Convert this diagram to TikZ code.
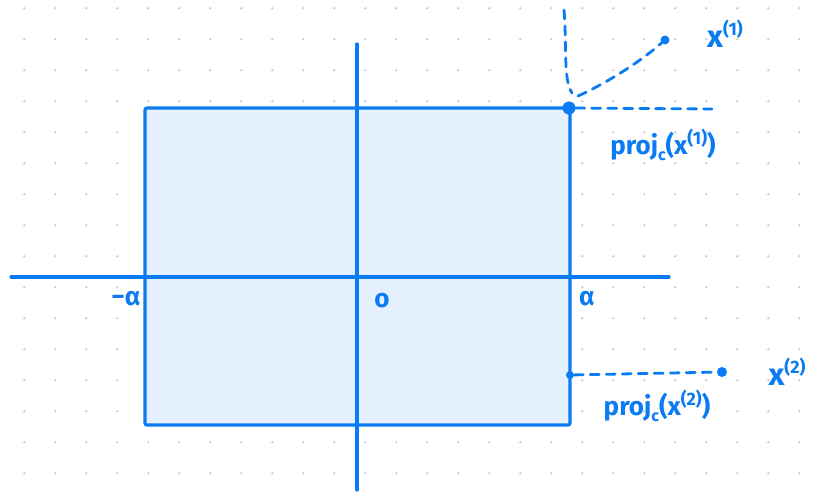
\documentclass[tikz,border=0pt]{standalone}
\usepackage{fontspec}
\setmainfont{Fira Sans}
\definecolor{pen}{HTML}{0A7BF2}
\definecolor{fillc}{HTML}{E4F0FD}
\definecolor{griddot}{HTML}{CCCCCC}
\newcommand\mysup[1]{\raisebox{0.75ex}{\fontsize{18}{18}\selectfont #1}}
\newcommand\mysub[1]{\raisebox{-0.45ex}{\fontsize{16}{16}\selectfont #1}}
\begin{document}
\begin{tikzpicture}[x=1pt,y=-1pt,
  penline/.style={draw=pen,line width=3.2pt,line cap=round},
  dashline/.style={draw=pen,line width=2.8pt,dash pattern=on 9pt off 7pt,line cap=round},
  lbl/.style={text=pen,font=\fontsize{26}{28}\selectfont\bfseries,inner sep=1pt},
  biglbl/.style={text=pen,font=\fontsize{31}{33}\selectfont\bfseries,inner sep=1pt},
  dotpt/.style={circle,fill=pen,inner sep=0pt}]
\useasboundingbox (0,0) rectangle (820,494);
\fill[white] (0,0) rectangle (820,494);
\foreach \i in {0,...,25}{\foreach \j in {0,...,15}{
  \fill[griddot] (24.3+31*\i,8.3+31*\j) circle (1.3);}}
% box
\coordinate (tl) at (145,108);
\coordinate (br) at (570,425);
\fill[fillc] (tl) rectangle (br);
\draw[penline,rounded corners=2pt] (tl) rectangle (br);
% axes
\coordinate (xl) at (11,277);
\coordinate (xr) at (669,277);
\coordinate (yt) at (357,44);
\coordinate (yb) at (357,490);
\draw[penline] (xl) -- (xr);
\draw[penline] (yt) -- (yb);
% points
\node[dotpt,minimum size=13pt] (p1) at (569,108) {};
\node[dotpt,minimum size=9pt] (x1) at (665,40) {};
\node[dotpt,minimum size=8pt] (p2) at (570,375) {};
\node[dotpt,minimum size=10pt] (x2) at (722,372) {};
\coordinate (vtop) at (564,10);
\coordinate (hend) at (712,109);
\coordinate (vbot) at (572,93);
\coordinate (cstart) at (578,96);
% dashed
\draw[dashline] (vtop) .. controls (567,45) and (563,80) .. (vbot);
\draw[dashline] (cstart) .. controls (605,84) and (640,62) .. (x1);
\draw[dashline] (p1) -- (hend);
\draw[dashline] (p2) -- (x2);
% labels
\node[biglbl] (lx1) at (725,34) {x\mysup{(1)}};
\node[lbl] (lp1) at (663,145) {proj\mysub{c}(x\mysup{(1)})};
\node[biglbl] (lx2) at (787,372) {x\mysup{(2)}};
\node[lbl] (lp2) at (657,406) {proj\mysub{c}(x\mysup{(2)})};
\node[lbl] (lma) at (126,299) {−α};
\node[lbl] (lz) at (382,301) {o};
\node[lbl] (la) at (587,299) {α};
\end{tikzpicture}
\end{document}
